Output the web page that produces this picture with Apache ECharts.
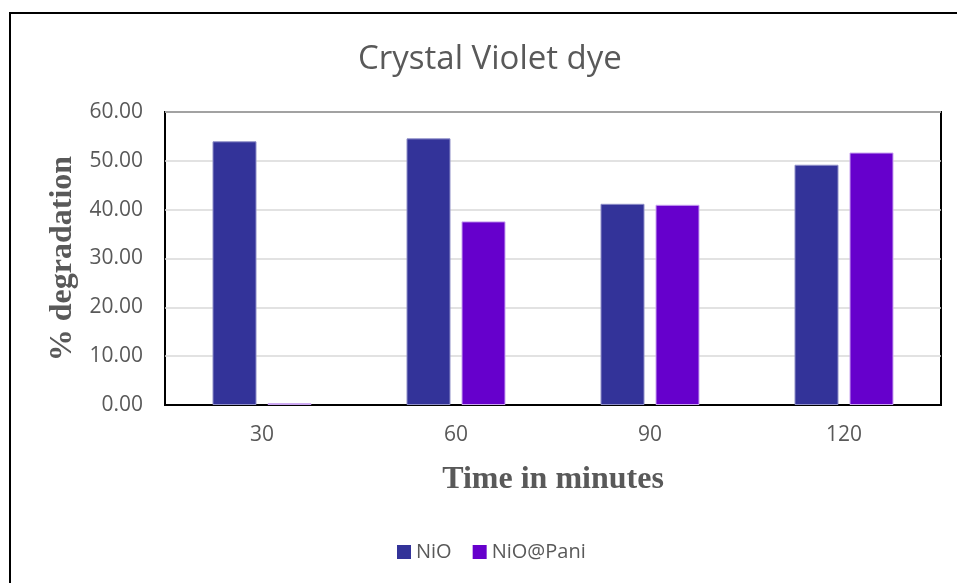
<!DOCTYPE html>
<html>
<head>
<meta charset="utf-8">
<script src="https://cdn.jsdelivr.net/npm/echarts@6/dist/echarts.min.js"></script>
<style>
html,body{margin:0;padding:0;background:#fff;}
#c{width:957px;height:583px;}
</style>
</head>
<body>
<div id="c"></div>
<script>
var title = "Crystal Violet dye";
var categories = ["30", "60", "90", "120"];
var seriesNames = ["NiO", "NiO@Pani"];
var nioValues = [54.0, 54.6, 41.2, 49.2];
var nioPaniValues = [0.35, 37.6, 41.0, 51.7];
var yTicks = [0, 10, 20, 30, 40, 50, 60];

var chart = echarts.init(document.getElementById('c'), null, {renderer: 'canvas'});
var gray = '#595959';
chart.setOption({
  animation: false,
  backgroundColor: '#fff',
  title: {
    text: title, left: 353, top: 38,
    textStyle: {fontFamily: 'Open Sans', fontWeight: 'normal', fontSize: 33, color: gray}
  },
  graphic: [{
    type: 'rect', shape: {x: 10, y: 13, width: 1000, height: 700},
    style: {fill: 'none', stroke: '#000', lineWidth: 2}, silent: true
  }],
  legend: {
    data: seriesNames, left: 392, top: 537,
    itemWidth: 14, itemHeight: 14, itemGap: 21,
    icon: 'rect',
    itemStyle: {borderWidth: 0},
    textStyle: {fontFamily: 'Open Sans', fontSize: 20, color: gray}
  },
  grid: {
    left: 165, right: 16, top: 112, bottom: 178,
    show: true, borderColor: '#000', borderWidth: 2, backgroundColor: 'transparent'
  },
  xAxis: {
    type: 'category', data: categories,
    axisTick: {show: false},
    axisLine: {lineStyle: {color: '#000', width: 2}},
    axisLabel: {fontFamily: 'Open Sans', fontSize: 21, color: gray, margin: 20},
    name: 'Time in minutes', nameLocation: 'middle', nameGap: 59,
    nameTextStyle: {fontFamily: 'Liberation Serif', fontWeight: 'bold', fontSize: 32, color: gray}
  },
  yAxis: {
    type: 'value', min: yTicks[0], max: yTicks[yTicks.length-1], interval: 10,
    axisLine: {show: false}, axisTick: {show: false},
    splitLine: {lineStyle: {color: '#d9d9d9', width: 1.5}},
    axisLabel: {fontFamily: 'Open Sans', fontSize: 21, color: gray, margin: 22,
      formatter: function(v){ return v.toFixed(2); }},
    name: '% degradation', nameLocation: 'middle', nameGap: 80,
    nameTextStyle: {fontFamily: 'Liberation Serif', fontWeight: 'bold', fontSize: 32, color: gray}
  },
  series: [{
    name: seriesNames[0], type: 'bar', data: nioValues,
    barWidth: 44, barGap: '25%',
    itemStyle: {color: '#333399', borderColor: '#8f8fc8', borderWidth: 1}
  }, {
    name: seriesNames[1], type: 'bar', data: nioPaniValues,
    barWidth: 44,
    itemStyle: {color: '#6600cc', borderColor: '#c9a3f0', borderWidth: 1}
  }]
});
</script>
</body>
</html>
